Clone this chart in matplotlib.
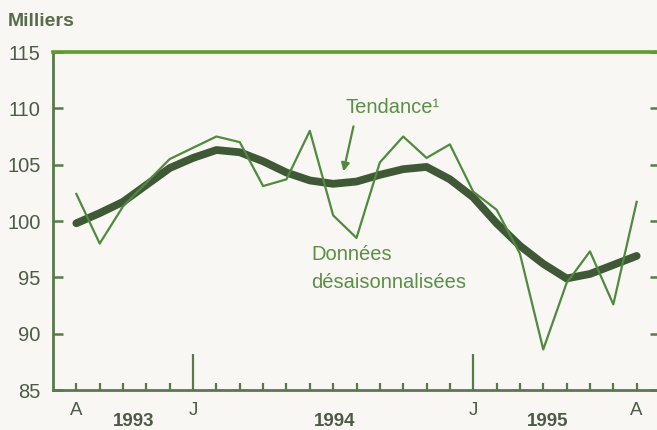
import matplotlib.pyplot as plt
from matplotlib.transforms import blended_transform_factory

plt.rcParams["font.family"] = ["Liberation Sans", "DejaVu Sans"]

# monthly index: 0 = août 1993 ... 24 = août 1995
months = list(range(25))

# données désaisonnalisées (milliers)
raw = [102.4, 98.0, 101.3, 103.4, 105.5, 106.5, 107.5, 107.0, 103.1, 103.7,
       108.0, 100.5, 98.5, 105.2, 107.5, 105.6, 106.8, 102.6, 101.0, 97.1,
       88.6, 94.5, 97.3, 92.6, 101.7]

# tendance
trend = [99.8, 100.7, 101.7, 103.2, 104.7, 105.6, 106.3, 106.1, 105.3, 104.3,
         103.6, 103.3, 103.5, 104.1, 104.6, 104.8, 103.7, 102.1, 99.8, 97.8,
         96.2, 94.9, 95.3, 96.1, 96.9]

month_labels = ["A", "J", "J", "A"]
month_label_pos = [0, 5, 17, 24]
year_labels = ["1993", "1994", "1995"]
year_label_pos = [2.45, 11.05, 20.2]
jan_pos = [5, 17]

yticks = [85, 90, 95, 100, 105, 110, 115]

BG = "#f8f7f4"
TXT = "#4d5a45"
GREEN = "#5a8f44"

fig = plt.figure(figsize=(6.57, 4.30), dpi=100, facecolor=BG)
ax = fig.add_axes([53 / 657, 40 / 430, 607 / 657, 338 / 430])
ax.set_facecolor(BG)

ax.plot(months, trend, color="#3f5836", lw=5.6, solid_capstyle="round",
        solid_joinstyle="round", zorder=3)
ax.plot(months, raw, color="#4f8a3e", lw=1.6, zorder=4)

ax.set_xlim(-1, 25)
ax.set_ylim(85, 115)

# spines
for side in ("left", "bottom"):
    ax.spines[side].set_color("#587a48")
    ax.spines[side].set_linewidth(2.0)
ax.spines["top"].set_color("#5c9c2c")
ax.spines["top"].set_linewidth(2.6)
ax.spines["right"].set_visible(False)

# x ticks: every month, taller ones at January
ax.set_xticks(months, minor=True)
ax.set_xticks(jan_pos)
ax.set_xticklabels([])
ax.tick_params(axis="x", which="minor", direction="in", length=5,
               width=1.6, color="#587a48")
ax.tick_params(axis="x", which="major", direction="in", length=26,
               width=1.6, color="#587a48")

# y ticks
ax.set_yticks(yticks)
ax.set_yticklabels([str(v) for v in yticks])
ax.tick_params(axis="y", direction="in", length=7, width=1.8,
               color="#587a48", labelsize=14.5, labelcolor=TXT, pad=9,
               right=True)

trans = blended_transform_factory(ax.transData, ax.transAxes)
for lab, pos in zip(month_labels, month_label_pos):
    ax.text(pos, -0.062, lab, transform=trans, ha="center", va="center",
            fontsize=13.5, color=TXT, clip_on=False)
for lab, pos in zip(year_labels, year_label_pos):
    ax.text(pos, -0.094, lab, transform=trans, ha="center", va="center",
            fontsize=13.5, fontweight="bold", color=TXT, clip_on=False)

fig.text(8 / 657, 1 - 21 / 430, "Milliers", ha="left", va="center",
         fontsize=14, fontweight="bold", color="#5a6a4c")

ax.text(11.55, 110.1, "Tendance¹", ha="left", va="center", fontsize=14.5,
        color=GREEN)
ax.annotate("", xy=(11.44, 104.4), xytext=(11.87, 108.4),
            arrowprops=dict(arrowstyle="-|>", color="#4f8a3e", lw=1.6,
                            mutation_scale=12, shrinkA=0, shrinkB=0))

ax.text(10.07, 97.0, "Données", ha="left", va="center", fontsize=14.5,
        color=GREEN)
ax.text(10.07, 94.5, "désaisonnalisées", ha="left", va="center",
        fontsize=14.5, color=GREEN)

fig.savefig("out.png", dpi=100, facecolor=BG)
